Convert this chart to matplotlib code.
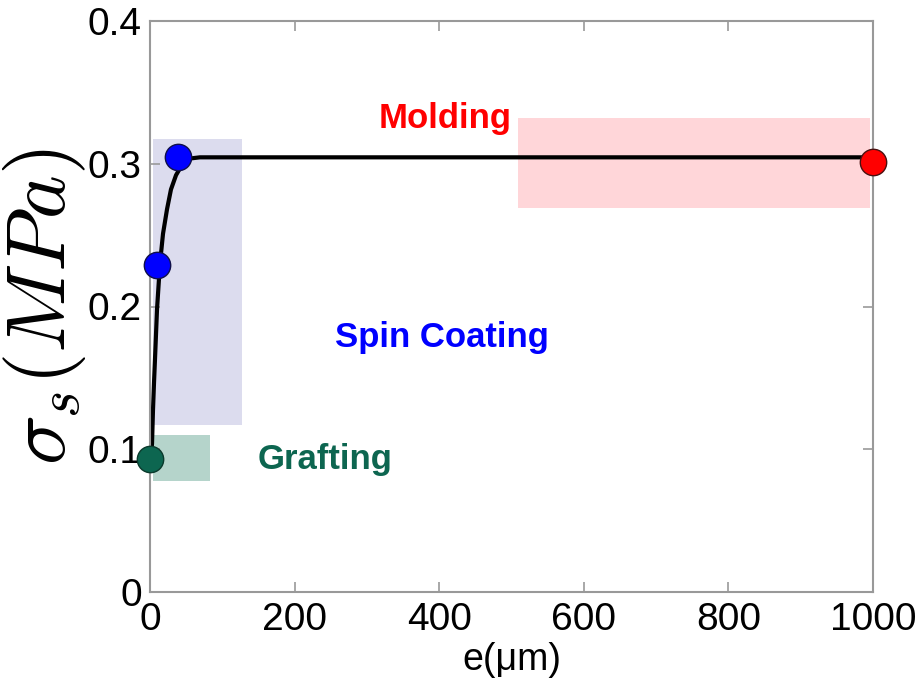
import matplotlib
matplotlib.use("Agg")
import matplotlib.pyplot as plt
from matplotlib.patches import Rectangle

# Data points
grafting_x = [0]
grafting_y = [0.093]
spin_x = [10, 39]
spin_y = [0.229, 0.305]
molding_x = [1000]
molding_y = [0.301]

# Fitted curve
curve_x = [1, 2.8, 4.1, 5.5, 6.9, 9.7, 13.8, 18, 23.5, 29, 36, 44, 52.6, 69, 1000]
curve_y = [0.093, 0.104, 0.127, 0.146, 0.163, 0.198, 0.230, 0.251, 0.268, 0.282,
           0.292, 0.299, 0.3035, 0.3045, 0.3045]

# Shaded regions: (x0, x1, y0, y1)
spin_box = (4, 127, 0.117, 0.317)
graft_box = (4, 83, 0.078, 0.110)
mold_box = (509, 996, 0.269, 0.332)

# Labels
labels = ["Molding", "Spin Coating", "Grafting"]
label_x = [408, 404, 242]
label_y = [0.325, 0.1715, 0.086]
label_colors = ["#ff0000", "#0000ff", "#0d6650"]

xticks = [0, 200, 400, 600, 800, 1000]
yticks = [0, 0.1, 0.2, 0.3, 0.4]
ytick_labels = ["0", "0.1", "0.2", "0.3", "0.4"]

plt.rcParams['font.family'] = ['Liberation Sans', 'DejaVu Sans']
plt.rcParams['mathtext.fontset'] = 'cm'

fig = plt.figure(figsize=(9.21, 6.94), dpi=100)
ax = fig.add_axes([150/921, (694-592)/694, (873-150)/921, (592-21)/694])

for (x0, x1, y0, y1), c in [(spin_box, "#dcdcee"), (graft_box, "#b5d4cb"), (mold_box, "#ffd6d9")]:
    ax.add_patch(Rectangle((x0, y0), x1 - x0, y1 - y0, facecolor=c, edgecolor='none', zorder=1))

ax.plot(curve_x, curve_y, color='black', lw=3, zorder=2, solid_capstyle='round',
        solid_joinstyle='round')

ax.plot(grafting_x, grafting_y, 'o', ms=19, mfc='#0d6650', mec='#0a3a2c', mew=1, zorder=3, clip_on=False)
ax.plot(spin_x, spin_y, 'o', ms=19, mfc='#0000ff', mec='#10104a', mew=1, zorder=3, clip_on=False)
ax.plot(molding_x, molding_y, 'o', ms=19, mfc='#ff0000', mec='#4a1010', mew=1, zorder=3, clip_on=False)

for t, x, y, c in zip(labels, label_x, label_y, label_colors):
    ax.text(x, y, t, color=c, fontsize=25, fontweight='bold', ha='center', va='baseline', zorder=4)

ax.set_xlim(0, 1000)
ax.set_ylim(0, 0.4)
ax.set_xticks(xticks)
ax.set_yticks(yticks)
ax.set_yticklabels(ytick_labels)
ax.tick_params(direction='in', length=7, width=1.2, color='#999999', labelsize=28, pad=7,
               top=True, right=True)
ax.tick_params(axis='y', pad=6)
for s in ax.spines.values():
    s.set_color('#999999')
    s.set_linewidth(1.5)

ax.set_xlabel('e(μm)', fontsize=27, labelpad=3)
ax.set_ylabel(r'$\sigma_s(MPa)$', fontsize=60, labelpad=0)

fig.savefig('out.png', dpi=100)
